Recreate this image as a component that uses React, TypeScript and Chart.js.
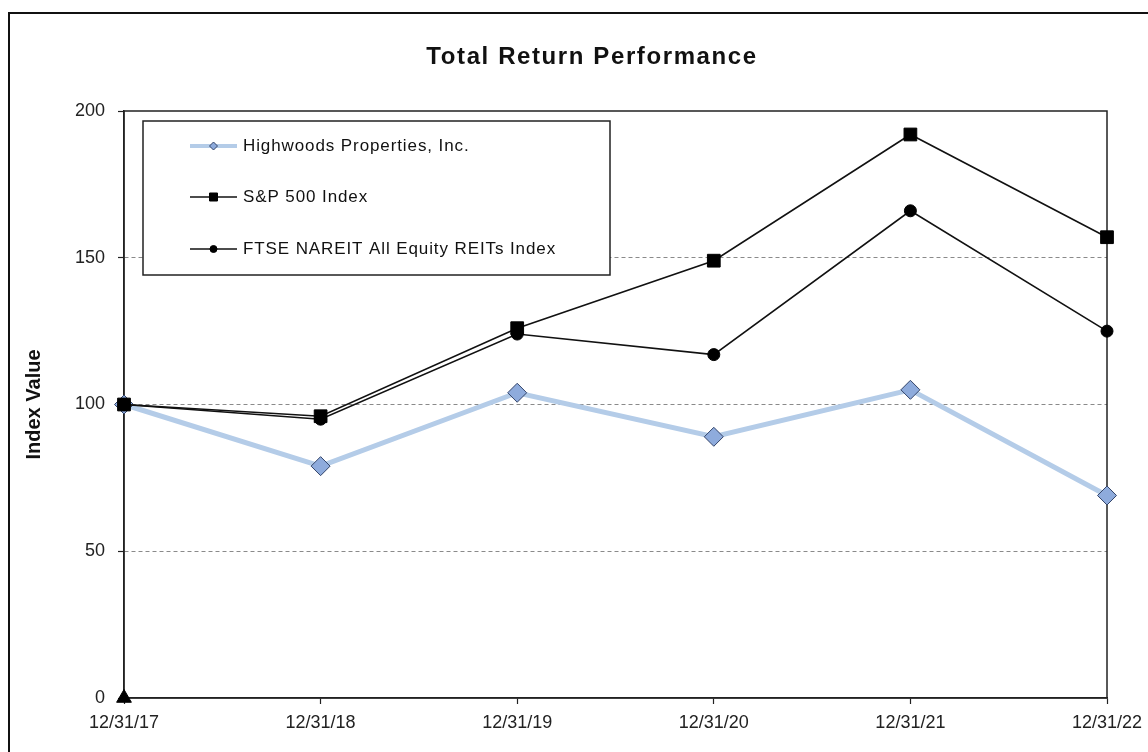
import React, { useEffect, useRef } from "react";
import { Chart, registerables } from "chart.js";

Chart.register(...registerables);

// ---- data ----
const categories = ["12/31/17", "12/31/18", "12/31/19", "12/31/20", "12/31/21", "12/31/22"];
const highwoods = [100, 79, 104, 89, 105, 69];
const sp500 = [100, 96, 126, 149, 192, 157];
const ftse = [100, 95, 124, 117, 166, 125];
const baseMarker = [0, null, null, null, null, null];
const seriesNames = ["Highwoods Properties, Inc.", "S&P 500 Index", "FTSE NAREIT All Equity REITs Index"];
const yTicks = [0, 50, 100, 150, 200];
const chartTitle = "Total Return Performance";
const yTitle = "Index Value";

const FONT = '"Liberation Sans", Arial, Helvetica, sans-serif';

const framePlugin = {
  id: "frame",
  beforeDraw(chart: any) {
    const { ctx, width, height } = chart;
    ctx.save();
    ctx.fillStyle = "#ffffff";
    ctx.fillRect(0, 0, width, height);
    ctx.strokeStyle = "#111";
    ctx.lineWidth = 2;
    ctx.beginPath();
    ctx.moveTo(1, height + 5);
    ctx.lineTo(1, 1);
    ctx.lineTo(width + 5, 1);
    ctx.stroke();
    ctx.restore();
  },
  afterDraw(chart: any) {
    const { ctx, width } = chart;
    ctx.save();
    ctx.fillStyle = "#111";
    ctx.font = `bold 24px ${FONT}`;
    (ctx as any).letterSpacing = "1.6px";
    ctx.textAlign = "center";
    ctx.textBaseline = "middle";
    ctx.fillText(chartTitle, width / 2, 45);
    ctx.restore();
  },
};

function drawMarker(ctx: CanvasRenderingContext2D, style: string, x: number, y: number, r: number) {
  ctx.beginPath();
  if (style === "rectRot") {
    ctx.moveTo(x, y - r);
    ctx.lineTo(x + r, y);
    ctx.lineTo(x, y + r);
    ctx.lineTo(x - r, y);
    ctx.closePath();
  } else if (style === "rect") {
    ctx.rect(x - r, y - r, 2 * r, 2 * r);
  } else {
    ctx.arc(x, y, r, 0, Math.PI * 2);
  }
}

const plotPlugin = {
  id: "plotAndLegend",
  beforeDatasetsDraw(chart: any) {
    const { ctx, chartArea: ca } = chart;
    ctx.save();
    // plot frame
    ctx.strokeStyle = "#222";
    ctx.lineWidth = 1.5;
    ctx.strokeRect(ca.left, ca.top, ca.right - ca.left, ca.bottom - ca.top);

    // legend box
    const bx = ca.left + 19;
    const by = ca.top + 10;
    const bw = 467;
    const bh = 154;
    ctx.fillStyle = "#fff";
    ctx.fillRect(bx, by, bw, bh);
    ctx.strokeStyle = "#222";
    ctx.lineWidth = 1.5;
    ctx.strokeRect(bx, by, bw, bh);

    const rows = [25, 76, 128];
    const markerR = [4, 4, 3.5];
    const lineW = [4, 1.5, 1.5];
    seriesNames.forEach((name, i) => {
      const ds = chart.data.datasets[i];
      const y = by + rows[i];
      ctx.strokeStyle = ds.borderColor;
      ctx.lineWidth = lineW[i];
      ctx.beginPath();
      ctx.moveTo(bx + 47, y);
      ctx.lineTo(bx + 94, y);
      ctx.stroke();
      drawMarker(ctx, ds.pointStyle, bx + 70.5, y, markerR[i]);
      ctx.fillStyle = ds.pointBackgroundColor;
      ctx.fill();
      ctx.strokeStyle = ds.pointBorderColor;
      ctx.lineWidth = 1;
      ctx.stroke();
      ctx.fillStyle = "#111";
      ctx.font = `17px ${FONT}`;
      (ctx as any).letterSpacing = "0.9px";
      ctx.textAlign = "left";
      ctx.textBaseline = "middle";
      ctx.fillText(name, bx + 100, y);
      (ctx as any).letterSpacing = "0px";
    });
    ctx.restore();
  },
};

export default function App() {
  const ref = useRef<HTMLCanvasElement>(null);

  useEffect(() => {
    if (!ref.current) return;
    const chart = new Chart(ref.current, {
      type: "line",
      data: {
        labels: categories,
        datasets: [
          {
            label: seriesNames[0],
            data: highwoods,
            borderColor: "#b4cce8",
            borderWidth: 5,
            pointStyle: "rectRot",
            pointRadius: 9.5,
            pointBackgroundColor: "#8eabdc",
            pointBorderColor: "#34456a",
            pointBorderWidth: 1,
            tension: 0,
            clip: false,
            order: 4,
          },
          {
            label: seriesNames[1],
            data: sp500,
            borderColor: "#111",
            borderWidth: 1.6,
            pointStyle: "rect",
            pointRadius: 9,
            pointBackgroundColor: "#000",
            pointBorderColor: "#000",
            pointBorderWidth: 1,
            tension: 0,
            clip: false,
            order: 2,
          },
          {
            label: seriesNames[2],
            data: ftse,
            borderColor: "#111",
            borderWidth: 1.6,
            pointStyle: "circle",
            pointRadius: 6,
            pointBackgroundColor: "#000",
            pointBorderColor: "#000",
            pointBorderWidth: 1,
            tension: 0,
            clip: false,
            order: 3,
          },
          {
            label: "",
            data: baseMarker,
            showLine: false,
            pointStyle: "triangle",
            pointRadius: 8.5,
            pointBackgroundColor: "#000",
            pointBorderColor: "#000",
            pointBorderWidth: 1,
            clip: false,
            order: 1,
          },
        ],
      },
      options: {
        responsive: false,
        animation: false,
        events: [],
        layout: { padding: { top: 99, right: 69, left: 0, bottom: 0 } },
        plugins: {
          legend: { display: false },
          title: { display: false },
          tooltip: { enabled: false },
        },
        scales: {
          x: {
            type: "category",
            offset: false,
            grid: {
              drawOnChartArea: false,
              drawTicks: true,
              tickLength: 6,
              tickColor: "#222",
              tickWidth: 1.2,
            },
            border: { color: "#222", width: 1.5 },
            ticks: {
              font: { family: FONT, size: 18 },
              color: "#222",
              padding: 8,
              maxRotation: 0,
              autoSkip: false,
            },
            afterFit: (s: any) => {
              s.height = 54;
            },
          },
          y: {
            min: 0,
            max: 200,
            afterBuildTicks: (s: any) => {
              s.ticks = yTicks.map((v) => ({ value: v }));
            },
            ticks: {
              font: { family: FONT, size: 18 },
              color: "#222",
              padding: 13,
            },
            grid: {
              color: (c: any) =>
                c.tick && (c.tick.value === 0 || c.tick.value === 200) ? "rgba(0,0,0,0)" : "#8a8a8a",
              lineWidth: 1,
              drawTicks: true,
              tickLength: 6,
              tickColor: "#222",
              tickWidth: 1.2,
              tickBorderDash: [],
            },
            border: { color: "#222", width: 1.5, dash: [4, 3] },
            title: {
              display: true,
              text: yTitle,
              font: { family: FONT, size: 20, weight: "bold" },
              color: "#111",
              padding: { top: 14, bottom: 0 },
            },
            afterFit: (s: any) => {
              s.width = 116;
            },
          },
        },
      },
      plugins: [framePlugin, plotPlugin],
    } as any);
    return () => chart.destroy();
  }, []);

  return (
    <div
      style={{
        position: "absolute",
        left: 8,
        top: 12,
        width: 1140,
        height: 740,
        overflow: "hidden",
        background: "#fff",
      }}
    >
      <canvas ref={ref} width={1168} height={740} style={{ display: "block", width: 1168, height: 740 }} />
    </div>
  );
}
